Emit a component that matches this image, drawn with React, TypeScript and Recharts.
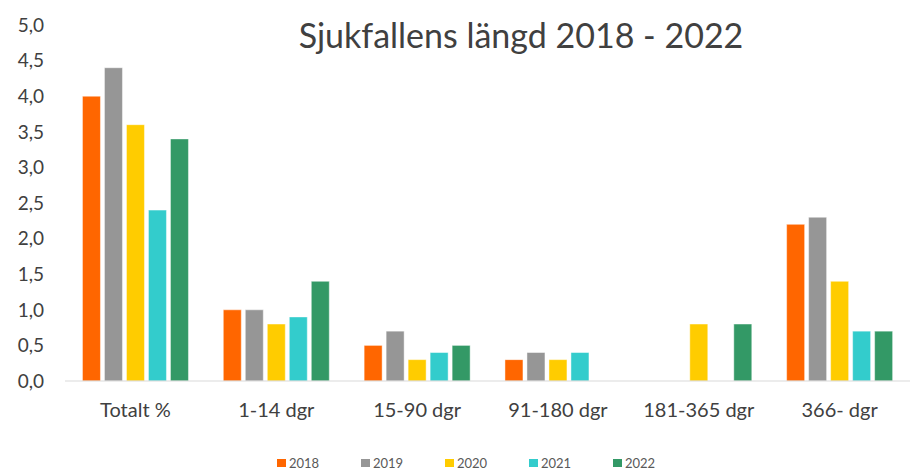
import { BarChart, Bar, XAxis, YAxis } from "recharts";

const categories = ["Totalt %", "1-14 dgr", "15-90 dgr", "91-180 dgr", "181-365 dgr", "366- dgr"];
const y2018 = [4.0, 1.0, 0.5, 0.3, null, 2.2];
const y2019 = [4.4, 1.0, 0.7, 0.4, null, 2.3];
const y2020 = [3.6, 0.8, 0.3, 0.3, 0.8, 1.4];
const y2021 = [2.4, 0.9, 0.4, 0.4, null, 0.7];
const y2022 = [3.4, 1.4, 0.5, null, 0.8, 0.7];
const yTicks = [0, 0.5, 1, 1.5, 2, 2.5, 3, 3.5, 4, 4.5, 5];

const series = [
  { key: "2018", values: y2018, color: "#FF6600" },
  { key: "2019", values: y2019, color: "#969696" },
  { key: "2020", values: y2020, color: "#FFCC00" },
  { key: "2021", values: y2021, color: "#33CCCC" },
  { key: "2022", values: y2022, color: "#339966" },
];

const data = categories.map((name, i) => {
  const row: Record<string, string | number | null> = { name };
  series.forEach((s) => (row[s.key] = s.values[i]));
  return row;
});

const font = "Lato, 'Open Sans', sans-serif";

// legend drawn as plain html below the plot so it doesn't eat plot height
function LegendBox() {
  return (
    <div
      style={{
        position: "absolute",
        left: 277,
        top: 455,
        display: "flex",
        fontFamily: font,
        fontSize: 13,
        color: "#595959",
      }}
    >
      {series.map((s) => (
        <div key={s.key} style={{ display: "flex", alignItems: "center", width: 84 }}>
          <span style={{ width: 9, height: 8, background: s.color, marginRight: 3, display: "inline-block" }} />
          <span>{s.key}</span>
        </div>
      ))}
    </div>
  );
}

export default function App() {
  return (
    <div style={{ position: "absolute", left: 0, top: 0, width: 914, height: 470, background: "#fff" }}>
      <div
        style={{
          position: "absolute",
          top: 14,
          left: 271,
          width: 500,
          textAlign: "center",
          fontFamily: font,
          fontSize: 34,
          color: "#404040",
        }}
      >
        Sjukfallens längd 2018 - 2022
      </div>
      <BarChart
        width={914}
        height={470}
        data={data}
        margin={{ top: 25, right: 4, bottom: 59, left: 10 }}
        barCategoryGap="12.4%"
        barGap={4}
      >
        <XAxis
          dataKey="name"
          height={30}
          axisLine={{ stroke: "#d9d9d9" }}
          tickLine={false}
          tickSize={0}
          tickMargin={22}
          tick={{ fill: "#404040", fontSize: 20, fontFamily: font }}
        />
        <YAxis
          domain={[0, 5]}
          ticks={yTicks}
          width={55}
          axisLine={false}
          tickLine={false}
          tickSize={0}
          tickMargin={21}
          interval={0}
          tickFormatter={(v: number) => v.toFixed(1).replace(".", ",")}
          tick={{ fill: "#404040", fontSize: 19, fontFamily: font }}
        />
        {series.map((s) => (
          <Bar
            key={s.key}
            dataKey={s.key}
            fill={s.color}
            stroke="rgba(255,255,255,0.45)"
            strokeWidth={1}
            isAnimationActive={false}
          />
        ))}
      </BarChart>
      <LegendBox />
    </div>
  );
}
